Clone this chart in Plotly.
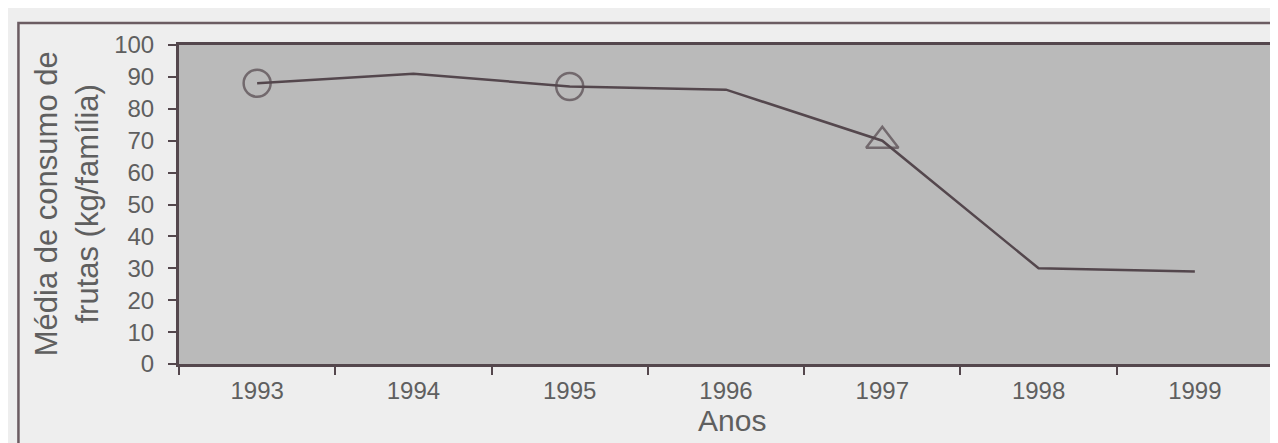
import plotly.graph_objects as go

anos = ["1993", "1994", "1995", "1996", "1997", "1998", "1999"]
consumo = [88, 91, 87, 86, 70, 30, 29]
marcadores = ["circle-open", None, "circle-open", None, "triangle-up-open", None, None]
y_ticks = [0, 10, 20, 30, 40, 50, 60, 70, 80, 90, 100]

W, H = 1278, 443
L, R, T, B = 171, 10, 37, 87
pw, ph = W - L - R, H - T - B

line_col = "#54474d"
text_col = "#5f5f5f"
font_fam = "Liberation Sans, Arial, sans-serif"

fig = go.Figure()
fig.add_trace(go.Scatter(
    x=anos, y=consumo, mode="lines",
    line=dict(color=line_col, width=2.5),
    hoverinfo="skip", showlegend=False,
))
idx = [i for i, m in enumerate(marcadores) if m]
fig.add_trace(go.Scatter(
    x=[anos[i] for i in idx], y=[consumo[i] for i in idx], mode="markers",
    marker=dict(symbol=[marcadores[i] for i in idx],
                size=[27 if "circle" in marcadores[i] else 28 for i in idx],
                color=line_col, line=dict(color=line_col, width=2.5)),
    showlegend=False,
))

fig.update_layout(
    width=W, height=H,
    margin=dict(l=L, r=R, t=T, b=B),
    paper_bgcolor="#eeeeee",
    plot_bgcolor="#bababa",
    font=dict(family=font_fam, color=text_col),
    xaxis=dict(
        type="category", range=[-0.5, 6.5],
        tickson="boundaries", ticks="outside", ticklen=8, tickcolor=line_col, tickwidth=1.5,
        showline=True, mirror=True, linecolor=line_col, linewidth=3,
        showgrid=False, zeroline=False,
        tickfont=dict(size=24, color=text_col),
        ticklabelstandoff=3,
    ),
    yaxis=dict(
        range=[0, 100], tickvals=y_ticks,
        ticks="outside", ticklen=8, tickcolor=line_col, tickwidth=1.5,
        showline=True, mirror=True, linecolor=line_col, linewidth=3,
        showgrid=False, zeroline=False,
        tickfont=dict(size=24, color=text_col),
        ticklabelstandoff=9,
    ),
    annotations=[
        dict(text="Média de consumo de<br>frutas (kg/família)",
             xref="paper", yref="paper",
             x=(58 - L) / pw, y=(H - B - 196) / ph,
             xanchor="center", yanchor="middle", textangle=-90,
             showarrow=False, font=dict(size=31, color=text_col)),
        dict(text="Anos", xref="paper", yref="paper",
             x=(726 - L) / pw, y=(H - B - 412) / ph,
             xanchor="center", yanchor="middle", borderpad=0,
             showarrow=False, font=dict(size=30, color=text_col)),
    ],
    shapes=[
        dict(type="rect", xref="paper", yref="paper",
             x0=(10 - L) / pw, x1=(1295 - L) / pw,
             y0=(H - B - 441) / ph, y1=(H - B - 15) / ph,
             line=dict(color="#6b5c62", width=2.5), fillcolor="rgba(0,0,0,0)",
             layer="above"),
    ],
)

fig.write_html("out.html")
